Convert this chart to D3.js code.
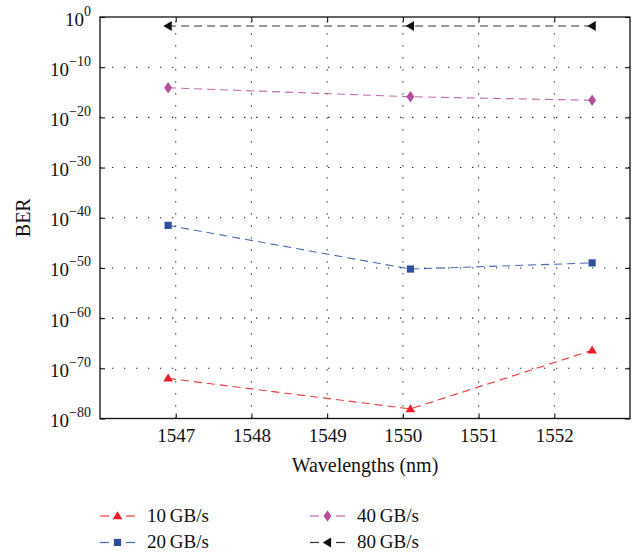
<!DOCTYPE html>
<html>
<head>
<meta charset="utf-8">
<script src="https://cdn.jsdelivr.net/npm/d3@7"></script>
<style>
  body { margin: 0; background: #fff; }
  svg { display: block; }
</style>
</head>
<body>
<svg id="chart" width="637" height="556"></svg>
<script>
// ---- data ----
const wavelengths = [1546.9, 1550.1, 1552.5];
const ber10 = [1e-72, 8e-79, 4e-67];
const ber20 = [3e-42, 6e-51, 1e-49];
const ber40 = [8e-15, 1.3e-16, 2.5e-17];
const ber80 = [1.6e-2, 1.6e-2, 1.6e-2];
const seriesNames = ["10\u2009GB/s", "20\u2009GB/s", "40\u2009GB/s", "80\u2009GB/s"];
const xTicks = [1547, 1548, 1549, 1550, 1551, 1552];
const yTickExps = [0, -10, -20, -30, -40, -50, -60, -70, -80];

// ---- layout ----
const FONT = "Liberation Serif";
const svg = d3.select("#chart");
const L = 100, R = 630, T = 17, B = 418.5;
const x = d3.scaleLinear().domain([1546, 1553]).range([L, R]);
const y = d3.scaleLog().domain([1e-80, 1]).range([B, T]);

const series = [
  { name: seriesNames[0], values: ber10, color: "#ec1c24", symbol: "triUp" },
  { name: seriesNames[1], values: ber20, color: "#2e4fa0", symbol: "square" },
  { name: seriesNames[2], values: ber40, color: "#b5509f", symbol: "diamond" },
  { name: seriesNames[3], values: ber80, color: "#111111", symbol: "triLeft" }
];

// grid
const grid = svg.append("g").attr("stroke", "#222").attr("stroke-width", 1.1)
  .attr("stroke-dasharray", "1.3,10.7");
grid.selectAll(".vg").data(xTicks).join("line")
  .attr("x1", d => x(d)).attr("x2", d => x(d)).attr("y1", B).attr("y2", T);
grid.selectAll(".hg").data(yTickExps.slice(1, -1)).join("line")
  .attr("y1", d => y(Math.pow(10, d))).attr("y2", d => y(Math.pow(10, d)))
  .attr("x1", L).attr("x2", R);

// axes (inward ticks on all sides)
const axB = svg.append("g").attr("transform", `translate(0,${B})`)
  .call(d3.axisBottom(x).tickValues(xTicks).tickFormat(d3.format("d"))
        .tickSize(-5).tickSizeOuter(0).tickPadding(10));
const axT = svg.append("g").attr("transform", `translate(0,${T})`)
  .call(d3.axisTop(x).tickValues(xTicks).tickFormat("").tickSize(-5).tickSizeOuter(0));
const axL = svg.append("g").attr("transform", `translate(${L},0)`)
  .call(d3.axisLeft(y).tickValues(yTickExps.map(e => Math.pow(10, e))).tickFormat("")
        .tickSize(-5).tickSizeOuter(0));
const axR = svg.append("g").attr("transform", `translate(${R},0)`)
  .call(d3.axisRight(y).tickValues(yTickExps.map(e => Math.pow(10, e))).tickFormat("")
        .tickSize(-5).tickSizeOuter(0));
[axB, axT, axL, axR].forEach(a => {
  a.attr("font-family", FONT);
  a.select(".domain").remove();
  a.selectAll("line").attr("stroke", "#111").attr("stroke-width", 1.1);
});
axB.selectAll("text").attr("font-size", 19).attr("font-family", FONT).attr("fill", "#111");

// y tick labels with superscripts
axL.selectAll(".tick").each(function(d) {
  const e = Math.round(Math.log10(d));
  const t = d3.select(this).append("text")
    .attr("x", -9).attr("y", 8).attr("text-anchor", "end")
    .attr("font-family", FONT).attr("font-size", 19).attr("fill", "#111");
  t.append("tspan").text("10");
  t.append("tspan").attr("dy", -10).attr("font-size", 14)
    .text(e === 0 ? "0" : "\u2212" + Math.abs(e));
});

// box
svg.append("rect").attr("x", L).attr("y", T).attr("width", R - L).attr("height", B - T)
  .attr("fill", "none").attr("stroke", "#111").attr("stroke-width", 1.3);

// markers
function drawMarker(g, type, color) {
  let p;
  if (type === "square") p = "M-3.6,-3.6H3.6V3.6H-3.6Z";
  else if (type === "diamond") p = "M0,-5.8L4,0L0,5.8L-4,0Z";
  else if (type === "triUp") p = "M0,-4.8L4.8,3.2L-4.8,3.2Z";
  else p = "M-4.8,0L3.6,-5L3.6,5Z";
  g.append("path").attr("d", p).attr("fill", color).attr("stroke", "none");
}

// lines + points
const line = d3.line().x(d => x(d[0])).y(d => y(d[1]));
series.forEach(s => {
  const pts = wavelengths.map((w, i) => [w, s.values[i]]);
  svg.append("path").datum(pts).attr("d", line)
    .attr("fill", "none").attr("stroke", s.color).attr("stroke-width", 1.1)
    .attr("stroke-dasharray", "8,5").attr("opacity", 0.85);
  pts.forEach(p => {
    const g = svg.append("g").attr("transform", `translate(${x(p[0])},${y(p[1])})`);
    drawMarker(g, s.symbol, s.color);
  });
});

// axis titles
svg.append("text").attr("x", (L + R) / 2).attr("y", 472).attr("text-anchor", "middle")
  .attr("font-family", FONT).attr("font-size", 20).attr("fill", "#111").text("Wavelengths (nm)");
svg.append("text").attr("transform", `translate(30,${(T + B) / 2}) rotate(-90)`)
  .attr("text-anchor", "middle").attr("font-family", FONT).attr("font-size", 20)
  .attr("fill", "#111").text("BER");

// legend
const legendPos = [
  { x: 100, y: 516 }, { x: 100, y: 542.5 }, { x: 310, y: 516 }, { x: 310, y: 542.5 }
];
series.forEach((s, i) => {
  const p = legendPos[i];
  const g = svg.append("g").attr("transform", `translate(${p.x},${p.y})`);
  g.append("line").attr("x1", 0).attr("x2", 9).attr("y1", 0).attr("y2", 0)
    .attr("stroke", s.color).attr("stroke-width", 1.2).attr("opacity", 0.85);
  g.append("line").attr("x1", 26).attr("x2", 35).attr("y1", 0).attr("y2", 0)
    .attr("stroke", s.color).attr("stroke-width", 1.2).attr("opacity", 0.85);
  const m = g.append("g").attr("transform", "translate(17.5,0)");
  drawMarker(m, s.symbol, s.color);
  g.append("text").attr("x", 47).attr("y", 5.5).attr("font-family", FONT)
    .attr("font-size", 19).attr("fill", "#111").text(s.name);
});
</script>
</body>
</html>
